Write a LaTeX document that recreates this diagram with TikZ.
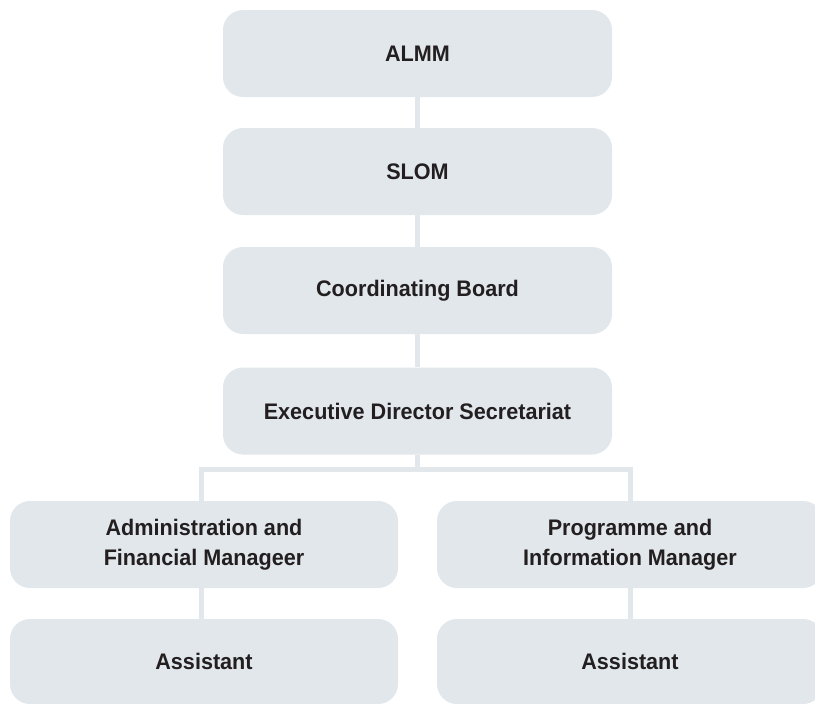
\documentclass[tikz,border=0pt]{standalone}
\usepackage{fontspec}
\setmainfont[FakeStretch=0.96]{Liberation Sans}
\definecolor{boxfill}{RGB}{225,231,235}
\definecolor{txt}{RGB}{35,31,32}
\begin{document}
\begin{tikzpicture}[x=1pt,y=1pt,
  orgbox/.style={fill=boxfill, rounded corners=20pt, inner sep=0pt,
    minimum height=87pt, text=txt, align=center,
    font=\fontsize{22.5}{30}\selectfont\bfseries},
  link/.style={draw=boxfill, line width=5pt, line join=miter}]
\useasboundingbox (0,0) rectangle (815,-704);
\clip (0,0) rectangle (815,-704);
\node[orgbox, minimum width=389pt] (almm) at (417.5,-53.5) {ALMM};
\node[orgbox, minimum width=389pt] (slom) at (417.5,-171.5) {SLOM};
\node[orgbox, minimum width=389pt] (coord) at (417.5,-290.5) {Coordinating Board};
\node[orgbox, minimum width=389pt] (exec) at (417.5,-411) {Executive Director Secretariat};
\node[orgbox, minimum width=388pt, minimum height=87pt] (adm) at (204,-544.5) {Administration and\\Financial Manageer};
\node[orgbox, minimum width=386pt, minimum height=87pt] (prog) at (630,-544.5) {Programme and\\Information Manager};
\node[orgbox, minimum width=388pt, minimum height=85pt] (asl) at (204,-661.5) {Assistant};
\node[orgbox, minimum width=386pt, minimum height=85pt] (asr) at (630,-661.5) {Assistant};
\coordinate (bl) at (201.5,-469.5);
\coordinate (br) at (630.5,-469.5);
\path[link] (almm.south) -- (slom.north);
\path[link] (slom.south) -- (coord.north);
\path[link] (coord.south) -- (exec.north);
\path[link] (exec.south) -- (exec.south |- bl);
\path[link] (bl |- adm.north) -- (bl) -- (br) -- (br |- prog.north);
\path[link] (bl |- adm.south) -- (bl |- asl.north);
\path[link] (br |- prog.south) -- (br |- asr.north);
\end{tikzpicture}
\end{document}
